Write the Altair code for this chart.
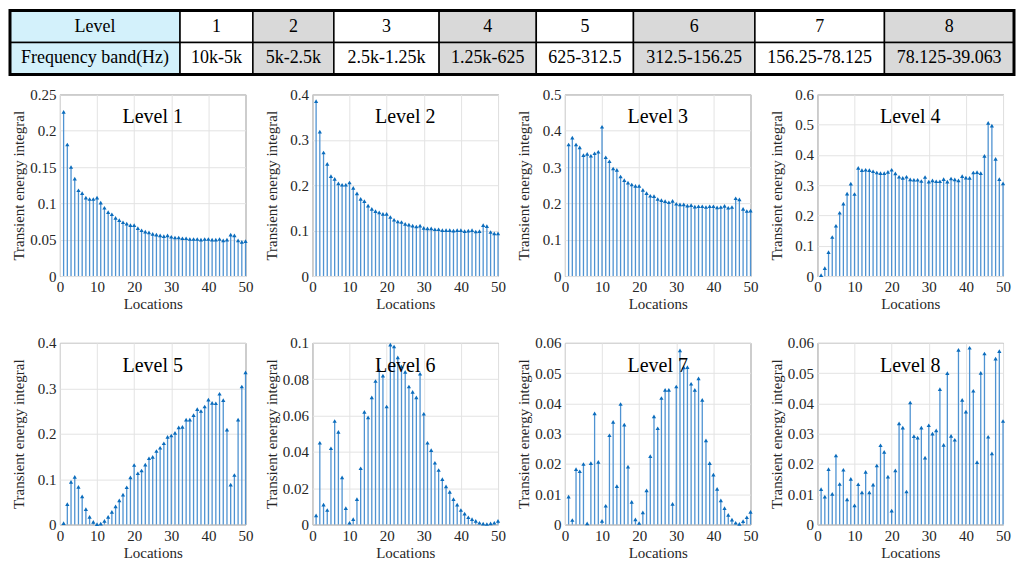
import altair as alt
import pandas as pd

locations = list(range(1, 51))

level1 = [0.226, 0.181, 0.150, 0.134, 0.118, 0.114, 0.108, 0.106, 0.106, 0.108,
          0.101, 0.094, 0.088, 0.085, 0.080, 0.077, 0.074, 0.072, 0.070, 0.070,
          0.066, 0.063, 0.061, 0.060, 0.058, 0.057, 0.056, 0.055, 0.056, 0.054,
          0.053, 0.053, 0.052, 0.052, 0.051, 0.051, 0.051, 0.050, 0.051, 0.051,
          0.050, 0.050, 0.051, 0.049, 0.050, 0.057, 0.056, 0.049, 0.047, 0.048]
level2 = [0.385, 0.318, 0.272, 0.247, 0.220, 0.214, 0.204, 0.201, 0.201, 0.206,
          0.194, 0.182, 0.170, 0.165, 0.155, 0.148, 0.143, 0.140, 0.137, 0.137,
          0.130, 0.124, 0.120, 0.119, 0.115, 0.113, 0.111, 0.109, 0.111, 0.106,
          0.105, 0.105, 0.103, 0.103, 0.101, 0.101, 0.101, 0.100, 0.101, 0.101,
          0.099, 0.100, 0.101, 0.098, 0.099, 0.112, 0.110, 0.097, 0.094, 0.094]
level3 = [0.362, 0.381, 0.362, 0.354, 0.333, 0.336, 0.331, 0.338, 0.342, 0.411,
          0.327, 0.316, 0.296, 0.292, 0.274, 0.264, 0.257, 0.252, 0.248, 0.248,
          0.237, 0.228, 0.221, 0.220, 0.212, 0.209, 0.206, 0.203, 0.207, 0.199,
          0.197, 0.197, 0.194, 0.195, 0.191, 0.192, 0.192, 0.190, 0.192, 0.192,
          0.189, 0.190, 0.193, 0.188, 0.190, 0.214, 0.211, 0.185, 0.179, 0.180]
level4 = [0.003, 0.026, 0.079, 0.129, 0.166, 0.209, 0.239, 0.272, 0.305, 0.271,
          0.357, 0.350, 0.351, 0.350, 0.346, 0.342, 0.340, 0.340, 0.344, 0.351,
          0.339, 0.328, 0.324, 0.328, 0.319, 0.318, 0.318, 0.314, 0.327, 0.312,
          0.316, 0.313, 0.313, 0.320, 0.312, 0.322, 0.319, 0.316, 0.330, 0.325,
          0.324, 0.342, 0.343, 0.340, 0.397, 0.506, 0.497, 0.387, 0.320, 0.306]
level5 = [0.003, 0.045, 0.094, 0.105, 0.083, 0.062, 0.034, 0.017, 0.006, 0.001,
          0.002, 0.008, 0.017, 0.028, 0.040, 0.053, 0.066, 0.082, 0.104, 0.131,
          0.113, 0.119, 0.132, 0.146, 0.149, 0.162, 0.169, 0.179, 0.193, 0.196,
          0.202, 0.214, 0.215, 0.231, 0.231, 0.241, 0.254, 0.250, 0.260, 0.275,
          0.268, 0.267, 0.288, 0.274, 0.209, 0.088, 0.109, 0.231, 0.304, 0.335]
level6 = [0.005, 0.045, 0.011, 0.008, 0.042, 0.057, 0.051, 0.026, 0.009, 0.001,
          0.003, 0.014, 0.031, 0.062, 0.059, 0.070, 0.079, 0.085, 0.082, 0.065,
          0.099, 0.098, 0.092, 0.087, 0.084, 0.076, 0.073, 0.070, 0.083, 0.061,
          0.045, 0.041, 0.034, 0.030, 0.025, 0.021, 0.018, 0.014, 0.011, 0.008,
          0.006, 0.004, 0.003, 0.002, 0.001, 0.0005, 0.0003, 0.0006, 0.001, 0.002]
level7 = [0.0092, 0.0015, 0.0183, 0.0176, 0.0200, 0.0004, 0.0203, 0.0367, 0.0207, 0.0012,
          0.0062, 0.0295, 0.0339, 0.0127, 0.0398, 0.0330, 0.0191, 0.0075, 0.0017, 0.0005,
          0.0040, 0.0113, 0.0226, 0.0357, 0.0318, 0.0418, 0.0445, 0.0445, 0.0068, 0.0456,
          0.0575, 0.0519, 0.0520, 0.0465, 0.0445, 0.0483, 0.0412, 0.0278, 0.0203, 0.0165,
          0.0118, 0.0080, 0.0054, 0.0032, 0.0016, 0.0006, 0.0002, 0.0011, 0.0024, 0.0042]
level8 = [0.0117, 0.0092, 0.0183, 0.0101, 0.0228, 0.0134, 0.0181, 0.0083, 0.0151, 0.0063,
          0.0133, 0.0106, 0.0174, 0.0106, 0.0132, 0.0195, 0.0262, 0.0240, 0.0158, 0.0046,
          0.0179, 0.0334, 0.0320, 0.0109, 0.0403, 0.0292, 0.0287, 0.0320, 0.0221, 0.0328,
          0.0300, 0.0311, 0.0447, 0.0263, 0.0500, 0.0293, 0.0280, 0.0577, 0.0412, 0.0373,
          0.0584, 0.0442, 0.0206, 0.0501, 0.0565, 0.0290, 0.0235, 0.0548, 0.0573, 0.0342]

series = [level1, level2, level3, level4, level5, level6, level7, level8]
level_names = ["1", "2", "3", "4", "5", "6", "7", "8"]
bands = ["10k-5k", "5k-2.5k", "2.5k-1.25k", "1.25k-625", "625-312.5",
         "312.5-156.25", "156.25-78.125", "78.125-39.063"]
y_max = [0.25, 0.4, 0.5, 0.6, 0.4, 0.1, 0.06, 0.06]
y_step = [0.05, 0.1, 0.1, 0.1, 0.1, 0.02, 0.01, 0.01]
x_ticks = [0, 10, 20, 30, 40, 50]

FONT = "Liberation Serif"
STEM = "#4f93d2"
MARK = "#0a6cbd"
PW, PH = 186, 182
SPACING = 10
LEFT = 50          # y-axis extent (labels + title) left of the first plot
TABLE_W = 1006     # full width of the table, same as the rows of panels

# ---------- table ----------
header = ["Level"] + level_names
freq = ["Frequency band(Hz)"] + bands
weights = [max(len(a), len(b)) + 3 for a, b in zip(header, freq)]
total = sum(weights)
rows = []
start = 0
for c, (a, b) in enumerate(zip(header, freq)):
    fill = "label" if c == 0 else ("shade" if c % 2 == 0 else "plain")
    for r, t in enumerate([a, b]):
        rows.append(dict(x0=start, x1=start + weights[c], xm=start + weights[c] / 2,
                         r0=r, r1=r + 1, rm=r + 0.5, text=t, fill=fill))
    start += weights[c]
tdf = pd.DataFrame(rows)

xs = alt.Scale(domain=[0, total], nice=False, zero=False,
               range=[-LEFT, TABLE_W - LEFT])
ys = alt.Scale(domain=[0, 2], nice=False, reverse=True)
tbase = alt.Chart(tdf)
trect = tbase.mark_rect(stroke="black", strokeWidth=1.5).encode(
    x=alt.X("x0:Q", scale=xs, axis=None), x2="x1:Q",
    y=alt.Y("r0:Q", scale=ys, axis=None), y2="r1:Q",
    color=alt.Color("fill:N", legend=None,
                    scale=alt.Scale(domain=["label", "shade", "plain"],
                                    range=["#d3f1fb", "#d9d9d9", "#ffffff"])),
)
tframe = alt.Chart(pd.DataFrame({"a": [0], "b": [total], "c": [0], "d": [2]})).mark_rect(
    fill=None, stroke="black", strokeWidth=3
).encode(
    x=alt.X("a:Q", scale=xs, axis=None), x2="b:Q",
    y=alt.Y("c:Q", scale=ys, axis=None), y2="d:Q",
)
ttext = tbase.mark_text(font=FONT, fontSize=18, color="black").encode(
    x=alt.X("xm:Q", scale=xs, axis=None),
    y=alt.Y("rm:Q", scale=ys, axis=None),
    text="text:N",
)
table = alt.layer(trect, tframe, ttext).properties(
    width=TABLE_W - LEFT - 20, height=64,
    view=alt.ViewBackground(strokeWidth=0, stroke=None),
)

# ---------- panels ----------
def panel(i):
    df = pd.DataFrame({"loc": locations, "val": series[i]})
    n = int(round(y_max[i] / y_step[i]))
    yvals = [round(k * y_step[i], 4) for k in range(n + 1)]
    xsc = alt.Scale(domain=[0, 50], nice=False, zero=False)
    ysc = alt.Scale(domain=[0, y_max[i]], nice=False)
    xax = alt.Axis(values=x_ticks, title="Locations", format="d",
                   labelOverlap=False, labelFlush=False)
    yax = alt.Axis(values=yvals, title="Transient energy integral", format="~g",
                   labelOverlap=False, labelFlush=False)
    base = alt.Chart(df)
    stems = base.mark_rule(color=STEM, strokeWidth=1.3).encode(
        x=alt.X("loc:Q", scale=xsc, axis=xax),
        y=alt.Y("val:Q", scale=ysc, axis=yax),
        y2=alt.datum(0),
    )
    pts = base.mark_point(shape="triangle-up", filled=True, size=18,
                          color=MARK, opacity=1).encode(
        x=alt.X("loc:Q", scale=xsc, axis=xax),
        y=alt.Y("val:Q", scale=ysc, axis=yax),
    )
    lab = alt.Chart(pd.DataFrame({"t": [f"Level {level_names[i]}"]})).mark_text(
        font=FONT, fontSize=20, color="black", baseline="middle"
    ).encode(text="t:N", x=alt.value(PW / 2), y=alt.value(23))
    return alt.layer(stems, pts, lab).properties(
        width=PW, height=PH,
        view=alt.ViewBackground(stroke="#6e6e6e", strokeWidth=1),
    )

row1 = alt.hconcat(*[panel(i) for i in range(4)], spacing=SPACING)
row2 = alt.hconcat(*[panel(i) for i in range(4, 8)], spacing=SPACING)

top = alt.vconcat(table, row1, spacing=10)
chart = alt.vconcat(top, row2, spacing=22).properties(padding=0).configure_axis(
    labelFont=FONT, titleFont=FONT, labelFontSize=15, titleFontSize=15,
    labelColor="#262626", titleColor="#262626", titleFontWeight="normal",
    gridColor="#e3e3e3", gridOpacity=1, domain=False, ticks=False,
    labelPadding=4,
).configure_axisY(
    minExtent=30, maxExtent=30, titlePadding=3,
).configure_axisX(
    titlePadding=2,
).configure_view(stroke="#6e6e6e")

chart.save("out.html", embed_options={"renderer": "svg", "actions": False})
